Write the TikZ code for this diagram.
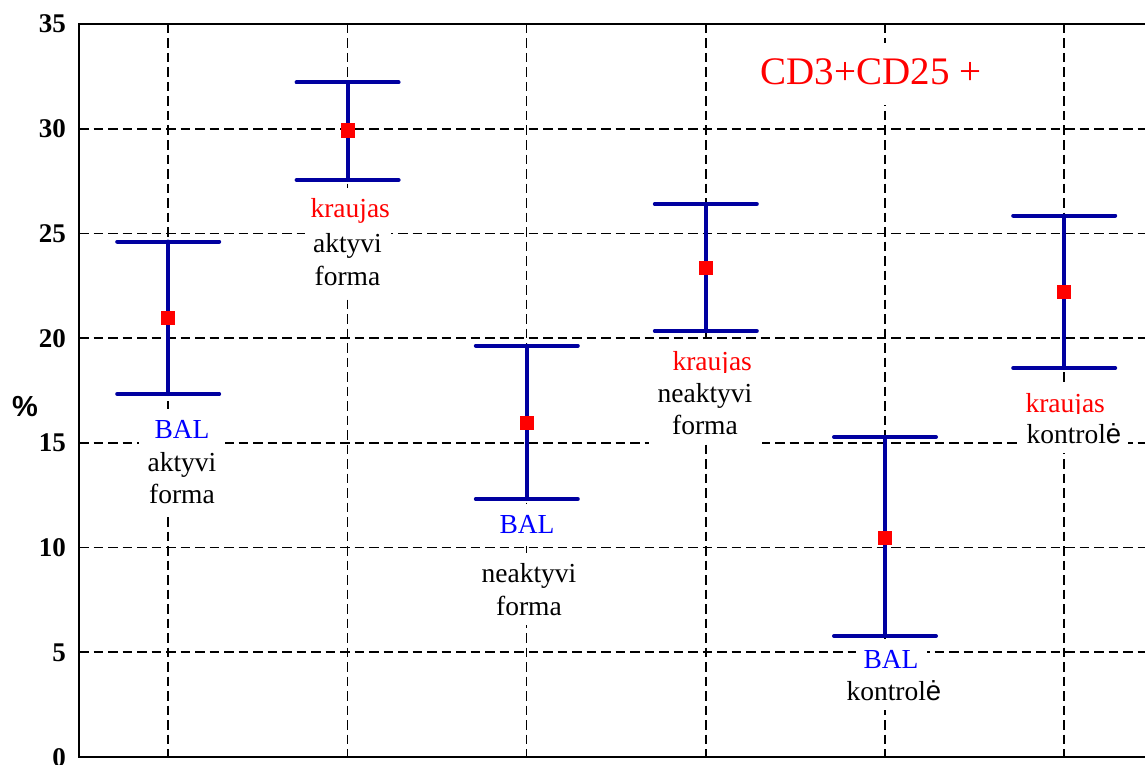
\documentclass[tikz,border=0pt]{standalone}
\usepackage{fontspec}
\setmainfont{Liberation Serif}
\newfontfamily\arialf{Liberation Sans}
\definecolor{barblue}{RGB}{0,0,160}
\definecolor{labblue}{RGB}{0,0,255}
\definecolor{labred}{RGB}{255,0,0}
\tikzset{
  gridln/.style={black, line width=1.7pt, dash pattern=on 9.5pt off 5pt},
  frameln/.style={black, line width=2pt},
  ebar/.style={barblue, line width=4pt, line cap=round},
  mk/.style={rectangle, fill=labred, minimum size=14pt, inner sep=0pt, draw=none},
  ticklab/.style={font=\fontsize{27}{27}\selectfont\bfseries, anchor=base east, inner sep=0pt},
  lab/.style={fill=white, inner xsep=8pt, inner ysep=3pt, anchor=base, align=center,
              font=\fontsize{27.5}{33}\selectfont},
  firstln/.style={lab, text height=26pt, text depth=7pt},
  nextln/.style={lab, text height=20pt, text depth=7pt},
  bal/.style={firstln, text=labblue},
  krau/.style={firstln, text=labred},
}
\begin{document}
\begin{tikzpicture}[x=1pt,y=-1pt]
\useasboundingbox (0,0) rectangle (1145,765);
\clip (0,0) rectangle (1145,765);
% grid
\foreach \y in {128.7,233.4,338.1,442.9,547.6,652.3}
  \draw[gridln] (79,\y) -- (1154,\y);
\foreach \x in {168.2,347.4,526.6,705.8,885,1064.2}
  \draw[gridln] (\x,24) -- (\x,757);
% frame
\draw[frameln] (1154,24) -- (79,24) -- (79,757) -- (1154,757);
% tick labels
\foreach \v/\y in {35/24,30/128.7,25/233.4,20/338.1,15/442.9,10/547.6,5/652.3,0/757}
  \node[ticklab] (tk\v) at (66,\y+9) {\v};
\node[font=\arialf\bfseries\fontsize{29}{29}\selectfont, anchor=base, inner sep=0pt] (pct) at (25,416) {\%};
% error bars
\foreach \i/\x/\t/\b/\m in {1/168.2/241.5/394/318, 2/347.6/82.5/180/130.5, 3/526.8/345.7/499/422.5,
                           4/705.8/204/331/268, 5/885/437/636/538, 6/1064.2/215.5/368/292}{
  \coordinate (t\i) at (\x,\t);
  \coordinate (b\i) at (\x,\b);
  \draw[ebar] (t\i) -- (b\i);
  \draw[ebar] ([xshift=-51pt]t\i) -- ([xshift=51pt]t\i);
  \draw[ebar] ([xshift=-51pt]b\i) -- ([xshift=51pt]b\i);
  \node[mk] (m\i) at (\x,\m) {};
}
% title
\node[fill=white, text=labred, anchor=base, inner xsep=6pt, inner ysep=8pt, text height=34pt, text depth=12pt,
      font=\fontsize{39}{39}\selectfont] (title) at (871,85) {CD3+CD25 +};
% group 1
\node[bal, text width=55pt] (l1a) at (182,438) {BAL};
\node[firstln, text width=70pt] (l1b) at (182,471) {aktyvi};
\node[nextln, text width=70pt] (l1c) at (182,503) {forma};
% group 2
\node[krau, text width=79pt] (l2a) at (350,217) {kraujas};
\node[firstln, text width=70pt] (l2b) at (347.5,252) {aktyvi};
\node[nextln, text width=70pt] (l2c) at (347.5,285) {forma};
% group 3
\node[bal, text width=55pt] (l3a) at (527,533) {BAL};
\node[firstln, text width=97pt] (l3b) at (529,582) {neaktyvi};
\node[nextln, text width=97pt] (l3c) at (529,615) {forma};
% group 4
\node[krau, text width=79pt] (l4a) at (712,370) {kraujas};
\node[firstln, text width=97pt] (l4b) at (705,402) {neaktyvi};
\node[nextln, text width=97pt] (l4c) at (705,434) {forma};
% group 5
\node[bal, text width=55pt] (l5a) at (891,668) {BAL};
\node[firstln, text width=93pt] (l5b) at (893,700) {kontrol{\arialf ė}};
% group 6
\node[krau, text width=79pt] (l6a) at (1065,412) {kraujas};
\node[firstln, text width=93pt] (l6b) at (1073,443) {kontrol{\arialf ė}};
\end{tikzpicture}
\end{document}
